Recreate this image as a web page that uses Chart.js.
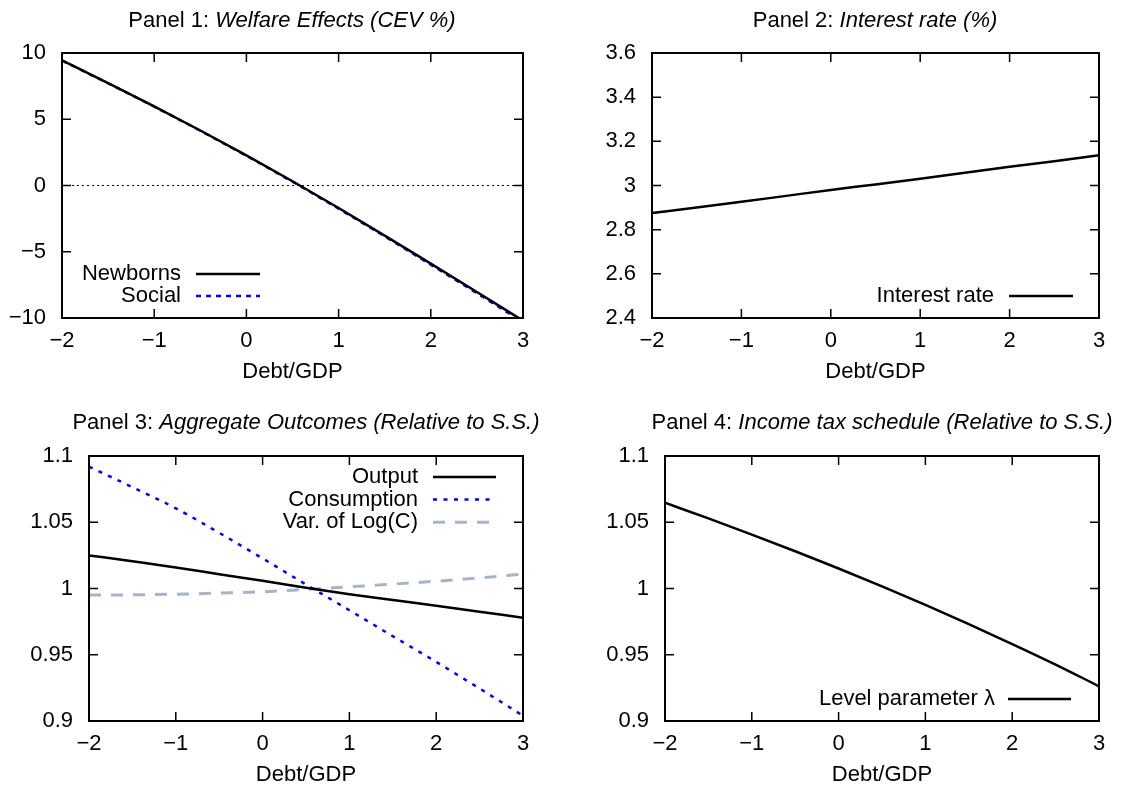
<!DOCTYPE html>
<html>
<head>
<meta charset="utf-8">
<script src="https://cdn.jsdelivr.net/npm/chart.js@4.4.1/dist/chart.umd.min.js"></script>
<style>
  body { margin: 0; background: #fff; width: 1124px; height: 791px; position: relative; overflow: hidden;
         font-family: "Liberation Sans", Arial, sans-serif; color: #000; }
  canvas { position: absolute; }
  .title { position: absolute; font-size: 22px; white-space: nowrap; transform: translate(-50%, -50%); }
</style>
</head>
<body>
<canvas id="p1" width="562" height="395" style="left:0;top:0"></canvas>
<canvas id="p2" width="562" height="395" style="left:562px;top:0"></canvas>
<canvas id="p3" width="562" height="396" style="left:0;top:395px"></canvas>
<canvas id="p4" width="562" height="396" style="left:562px;top:395px"></canvas>

<div class="title" style="left:292px;top:20px">Panel 1: <i>Welfare Effects (CEV %)</i></div>
<div class="title" style="left:875px;top:20px">Panel 2: <i>Interest rate (%)</i></div>
<div class="title" style="left:306px;top:422px">Panel 3: <i>Aggregate Outcomes (Relative to S.S.)</i></div>
<div class="title" style="left:882px;top:422px">Panel 4: <i>Income tax schedule (Relative to S.S.)</i></div>

<script>
// Data
const debtGdp = [-2, -1.5, -1, -0.5, 0, 0.5, 1, 1.5, 2, 2.5, 3];
const welfareNewborns = [9.45, 7.73, 5.97, 4.15, 2.27, 0.32, -1.7, -3.78, -5.9, -8.04, -10.2];
const welfareSocial = [9.43, 7.71, 5.95, 4.13, 2.24, 0.28, -1.75, -3.84, -5.98, -8.13, -10.32];
const interestRate = [2.875, 2.90, 2.926, 2.953, 2.98, 3.005, 3.031, 3.058, 3.085, 3.11, 3.137];
const aggOutput = [1.025, 1.0205, 1.0159, 1.0108, 1.0058, 1.0005, 0.9957, 0.9913, 0.987, 0.9825, 0.978];
const aggConsumption = [1.092, 1.0765, 1.0605, 1.042, 1.0227, 1.003, 0.9836, 0.964, 0.9446, 0.9245, 0.904];
const aggVarLogC = [0.995, 0.9952, 0.9957, 0.9965, 0.9975, 0.9993, 1.0013, 1.0033, 1.0055, 1.008, 1.0108];
const taxLambda = [1.0647, 1.0529, 1.0407, 1.0281, 1.0151, 1.0016, 0.9876, 0.9731, 0.9581, 0.9426, 0.9262];

const xTicks = [-2, -1, 0, 1, 2, 3];
const yTicksWelfare = [-10, -5, 0, 5, 10];
const yTicksRate = [2.4, 2.6, 2.8, 3.0, 3.2, 3.4, 3.6];
const yTicksRelative = [0.9, 0.95, 1.0, 1.05, 1.1];

const FONT = '"Liberation Sans", Arial, sans-serif';
Chart.defaults.font.family = FONT;
Chart.defaults.font.size = 22;
Chart.defaults.color = '#000';

function fmt(v, d) {
  return String(+Number(v).toFixed(d)).replace('-', '\u2212');
}

// gnuplot style box with inward ticks on all sides, plus optional zero line
const gnuFrame = {
  id: 'gnuFrame',
  beforeDatasetsDraw(chart, args, o) {
    if (!o.zero) return;
    const { ctx, chartArea: a } = chart;
    const y = chart.scales.y.getPixelForValue(0);
    ctx.save();
    ctx.strokeStyle = '#000';
    ctx.lineWidth = 1;
    ctx.setLineDash([2, 3]);
    ctx.beginPath();
    ctx.moveTo(a.left, y);
    ctx.lineTo(a.right, y);
    ctx.stroke();
    ctx.restore();
  },
  afterDraw(chart) {
    const { ctx, chartArea: a, scales } = chart;
    const len = 9;
    ctx.save();
    ctx.strokeStyle = '#000';
    ctx.lineWidth = 1.5;
    ctx.beginPath();
    scales.x.ticks.forEach(t => {
      const x = scales.x.getPixelForValue(t.value);
      ctx.moveTo(x, a.bottom); ctx.lineTo(x, a.bottom - len);
      ctx.moveTo(x, a.top); ctx.lineTo(x, a.top + len);
    });
    scales.y.ticks.forEach(t => {
      const y = scales.y.getPixelForValue(t.value);
      ctx.moveTo(a.left, y); ctx.lineTo(a.left + len, y);
      ctx.moveTo(a.right, y); ctx.lineTo(a.right - len, y);
    });
    ctx.stroke();
    ctx.lineWidth = 2;
    ctx.strokeRect(a.left, a.top, a.right - a.left, a.bottom - a.top);
    ctx.restore();
  }
};

// legend: text right-aligned, sample line to its right
const gnuLegend = {
  id: 'gnuLegend',
  afterDraw(chart, args, o) {
    const ctx = chart.ctx;
    chart.data.datasets.forEach((ds, i) => {
      const y = o.y + i * o.gap;
      ctx.save();
      ctx.font = '22px ' + FONT;
      ctx.fillStyle = '#000';
      ctx.textAlign = 'right';
      ctx.textBaseline = 'middle';
      ctx.fillText(ds.label, o.textX, y);
      ctx.strokeStyle = ds.borderColor;
      ctx.lineWidth = ds.borderWidth;
      ctx.setLineDash(ds.borderDash || []);
      ctx.beginPath();
      ctx.moveTo(o.x0, y);
      ctx.lineTo(o.x1, y);
      ctx.stroke();
      ctx.restore();
    });
  }
};

function makeChart(id, p) {
  return new Chart(document.getElementById(id), {
    type: 'line',
    data: {
      datasets: p.series.map(s => ({
        label: s.label,
        data: debtGdp.map((x, i) => ({ x: x, y: s.values[i] })),
        borderColor: s.color,
        borderWidth: s.width || 2.5,
        borderDash: s.dash || [],
        pointRadius: 0,
        cubicInterpolationMode: 'monotone',
        fill: false
      }))
    },
    options: {
      responsive: false,
      animation: false,
      layout: { padding: { left: 0, top: p.top, right: p.right, bottom: 0 } },
      plugins: {
        legend: { display: false },
        tooltip: { enabled: false },
        gnuFrame: { zero: !!p.zero },
        gnuLegend: p.legend
      },
      scales: {
        x: {
          type: 'linear', min: -2, max: 3,
          grid: { display: false, drawTicks: false },
          border: { display: false },
          afterBuildTicks: s => { s.ticks = xTicks.map(v => ({ value: v })); },
          afterFit: s => { s.height = p.bottom; },
          ticks: { padding: 10, color: '#000', maxRotation: 0, callback: v => fmt(v, 0) },
          title: { display: true, text: 'Debt/GDP', color: '#000', padding: { top: 0, bottom: p.titlePad } }
        },
        y: {
          type: 'linear', min: p.yMin, max: p.yMax,
          grid: { display: false, drawTicks: false },
          border: { display: false },
          afterBuildTicks: s => { s.ticks = p.yTicks.map(v => ({ value: v })); },
          afterFit: s => { s.width = p.left; },
          ticks: { padding: 16, color: '#000', callback: v => fmt(v, p.digits) }
        }
      }
    },
    plugins: [gnuFrame, gnuLegend]
  });
}

// Panel 1
makeChart('p1', {
  left: 62, right: 39, top: 53, bottom: 77, titlePad: 10,
  yMin: -10, yMax: 10, yTicks: yTicksWelfare, digits: 0, zero: true,
  legend: { textX: 181, x0: 196, x1: 260, y: 274, gap: 22 },
  series: [
    { label: 'Newborns', values: welfareNewborns, color: '#000000' },
    { label: 'Social', values: welfareSocial, color: '#0000ff', dash: [5, 5] }
  ]
});

// Panel 2
makeChart('p2', {
  left: 90, right: 25, top: 53, bottom: 77, titlePad: 10,
  yMin: 2.4, yMax: 3.6, yTicks: yTicksRate, digits: 1,
  legend: { textX: 432, x0: 447, x1: 511, y: 296, gap: 22 },
  series: [
    { label: 'Interest rate', values: interestRate, color: '#000000' }
  ]
});

// Panel 3
makeChart('p3', {
  left: 89, right: 39, top: 61, bottom: 70, titlePad: 3,
  yMin: 0.9, yMax: 1.1, yTicks: yTicksRelative, digits: 2,
  legend: { textX: 418, x0: 433, x1: 496, y: 82, gap: 22.6 },
  series: [
    { label: 'Output', values: aggOutput, color: '#000000' },
    { label: 'Consumption', values: aggConsumption, color: '#0000ff', dash: [4, 6.5] },
    { label: 'Var. of Log(C)', values: aggVarLogC, color: '#a3b5cc', dash: [12, 10], width: 3 }
  ]
});

// Panel 4
makeChart('p4', {
  left: 103, right: 25, top: 61, bottom: 70, titlePad: 3,
  yMin: 0.9, yMax: 1.1, yTicks: yTicksRelative, digits: 2,
  legend: { textX: 433, x0: 446, x1: 509, y: 304, gap: 22 },
  series: [
    { label: 'Level parameter \u03bb', values: taxLambda, color: '#000000' }
  ]
});
</script>
</body>
</html>
